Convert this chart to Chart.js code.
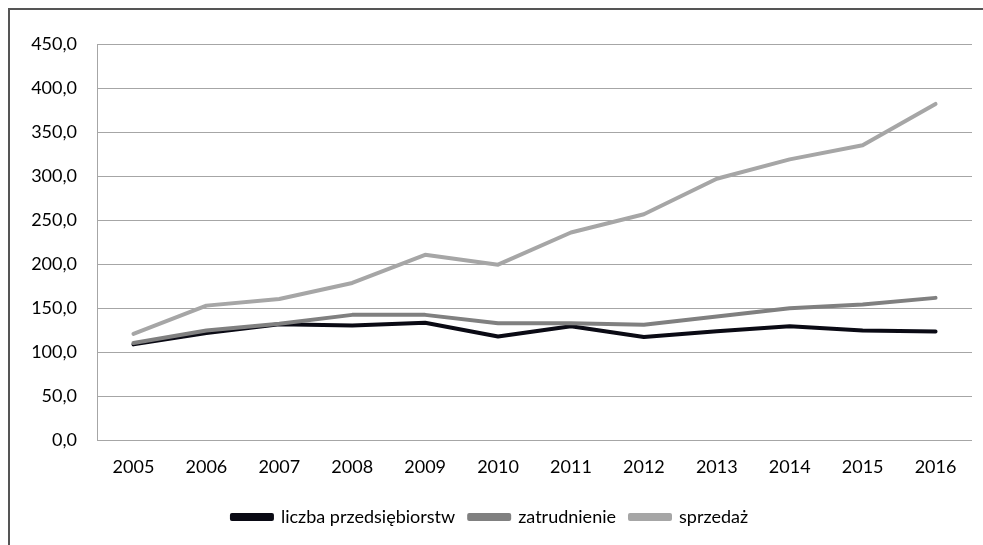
<!DOCTYPE html>
<html>
<head>
<meta charset="utf-8">
<script src="https://cdn.jsdelivr.net/npm/chart.js"></script>
<style>
  html, body { margin: 0; padding: 0; background: #fff; }
  #frame { position: absolute; left: 8px; top: 8px; width: 975px; height: 537px;
           border-left: 2px solid #555; border-top: 2px solid #555; box-sizing: border-box; }
  #wrap { position: absolute; left: 0; top: 0; width: 983px; height: 545px; }
</style>
</head>
<body>
<div id="frame"></div>
<div id="wrap"><canvas id="myChart" width="983" height="545"></canvas></div>
<script>
const years = ['2005','2006','2007','2008','2009','2010','2011','2012','2013','2014','2015','2016'];
const liczba = [109, 122, 131.8, 130.5, 133.5, 118, 129.7, 117.3, 124, 129.7, 124.8, 123.7];
const zatrudnienie = [110.5, 124.8, 132.4, 142.5, 142.5, 133, 133, 131.2, 140.6, 150, 154.2, 161.8];
const sprzedaz = [121, 153, 160.6, 178.7, 210.7, 199.5, 236, 256.8, 297, 319, 335, 382];
const seriesNames = ['liczba przedsiębiorstw', 'zatrudnienie', 'sprzedaż'];

const font = { family: 'Lato, "Open Sans", sans-serif', size: 18 };

function line(label, data, color) {
  return {
    label: label, data: data,
    borderColor: color, backgroundColor: color,
    borderWidth: 4, pointRadius: 0, tension: 0,
    borderCapStyle: 'round', borderJoinStyle: 'round'
  };
}

const config = {
  type: 'line',
  data: {
    labels: years,
    datasets: [
      line(seriesNames[2], sprzedaz, '#a6a6a6'),
      line(seriesNames[1], zatrudnienie, '#808080'),
      line(seriesNames[0], liczba, '#0a0a14')
    ]
  },
  options: {
    responsive: false,
    animation: false,
    layout: { padding: { left: 8, right: 11, top: 44, bottom: 9 } },
    plugins: {
      tooltip: { enabled: false },
      legend: {
        position: 'bottom',
        reverse: true,
        labels: { boxWidth: 40, boxHeight: 4, color: '#000', font: font, padding: 14 }
      }
    },
    scales: {
      x: {
        offset: true,
        grid: { display: false, drawTicks: false },
        border: { display: false },
        ticks: { color: '#000', font: font, padding: 16 }
      },
      y: {
        min: 0, max: 450,
        grid: { color: '#a6a6a6', lineWidth: 1, drawTicks: false },
        border: { display: true, color: '#a6a6a6', width: 1 },
        afterFit: function (s) { s.width = 89; },
        ticks: {
          stepSize: 50, color: '#000', font: font, padding: 20,
          callback: function (v) { return v.toFixed(1).replace('.', ','); }
        }
      }
    }
  }
};

new Chart(document.getElementById('myChart').getContext('2d'), config);
</script>
</body>
</html>
